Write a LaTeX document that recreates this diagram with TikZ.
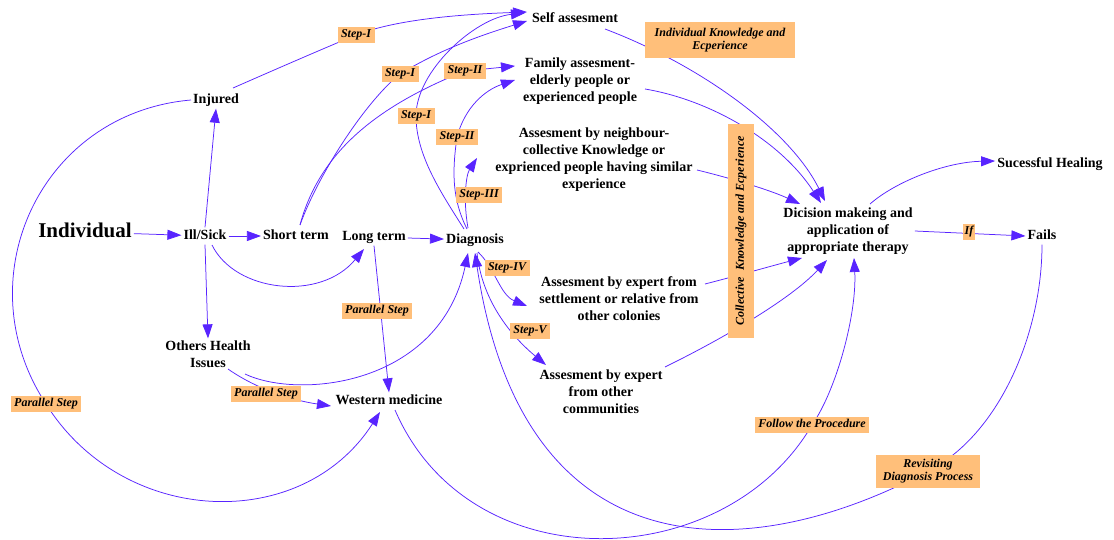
\documentclass[tikz,border=0pt]{standalone}
\usepackage{fontspec}
\setmainfont{Liberation Serif}
\usetikzlibrary{arrows.meta,calc}
\pgfdeclarelayer{fg}
\pgfsetlayers{main,fg}
\definecolor{flow}{RGB}{88,36,255}
\definecolor{tagfill}{RGB}{255,191,122}

\begin{document}
\begin{tikzpicture}[x=1pt,y=-1pt,
  term/.style={font=\fontsize{14}{17}\selectfont\bfseries, inner sep=2pt, text height=10pt, text depth=3pt},
  bigterm/.style={font=\fontsize{21}{24}\selectfont\bfseries, inner sep=2pt, text height=14.5pt, text depth=4pt},
  block/.style={font=\fontsize{14}{17}\selectfont\bfseries, align=center, inner sep=2pt},
  tag/.style={fill=tagfill, font=\fontsize{12}{13.5}\selectfont\bfseries\itshape, inner xsep=3.5pt, inner ysep=2.5pt},
  tagline/.style={tag, text height=8.3pt, text depth=2.5pt},
  plain/.style={draw=flow, line width=0.75pt},
  link/.style={plain, -{Triangle[length=14pt,width=10pt]}}]

\useasboundingbox[fill=white] (0,0) rectangle (1114,540);

% ---- states and assessments
\node[bigterm] (ind)   at (85,232)   {Individual};
\node[term]    (ill)   at (205,236)  {Ill/Sick};
\node[term]    (short) at (296,236)  {Short term};
\node[term]    (long)  at (374,237)  {Long term};
\node[term]    (diag)  at (475,240)  {Diagnosis};
\node[term]    (inj)   at (216,100)  {Injured};
\node[block]   (oth)   at (208,354)  {Others Health\\Issues};
\node[term]    (west)  at (389,401)  {Western medicine};
\node[term]    (self)  at (575,19)   {Self assesment};
\node[block]   (fam)   at (580,81)   {Family assesment-\\elderly people or\\experienced people};
\node[block]   (nei)   at (594,160)  {Assesment by neighbour-\\collective Knowledge or\\exprienced people having similar\\experience};
\node[block]   (exs)   at (619,299)  {Assesment by expert from\\settlement or relative from\\other colonies};
\node[block]   (exc)   at (601,392)  {Assesment by expert\\from other\\communities};
\node[block]   (dec)   at (848,231)  {Dicision makeing and\\application of\\appropriate therapy};
\node[term]    (succ)  at (1050,164) {Sucessful Healing};
\node[term]    (fails) at (1042,236) {Fails};

% ---- edge tags, kept above the connectors
\begin{pgfonlayer}{fg}
\node[tagline] (t1) at (356,35)  {Step-I};
\node[tagline] (t2) at (400,74)  {Step-I};
\node[tagline] (t3) at (465,71)  {Step-II};
\node[tagline] (t4) at (416,116) {Step-I};
\node[tagline] (t5) at (457,137) {Step-II};
\node[tagline] (t6) at (479,195) {Step-III};
\node[tagline] (t7) at (507,268) {Step-IV};
\node[tagline] (t8) at (530,331) {Step-V};
\node[tagline] (p1) at (377,311) {Parallel Step};
\node[tagline] (p2) at (266,394) {Parallel Step};
\node[tagline] (p3) at (46,404)  {Parallel Step};
\node[tag, align=center, minimum width=150pt, minimum height=36pt] (ik) at (720,40) {Individual Knowledge and\\Ecperience};
\node[tagline, rotate=90, minimum width=214pt, minimum height=26pt] (ck) at (741,231) {Collective\ \ Knowledge and Ecperience};
\node[tagline, inner xsep=2pt] (iff) at (969,232) {If};
\node[tagline] (fp) at (812,425) {Follow the Procedure};
\node[tag, align=center, minimum width=104pt, minimum height=33pt] (rv) at (928,471) {Revisiting\\Diagnosis Process};
\end{pgfonlayer}

% ---- main chain
\draw[link] (ind) -- (ill);
\draw[link] (ill) -- (short);
\draw[link] (ill.north) -- (inj.south);
\draw[link] (ill.south) -- (oth.north);
\draw[link] ($(ill)+(7,9)$) .. controls (235,292) and (320,302) .. ($(long)+(-10,12)$);
\draw[link] (long) -- (diag);

% ---- towards the assessments
\draw[link] ($(inj)+(17,-12)$) .. controls (274,70) and (320,50) .. (t1.center)
  .. controls (400,18) and (470,14) .. ($(self)+(-48,-7)$);
\draw[link] ($(short)+(4,-11)$) .. controls (318,175) and (365,102) .. (t2.center)
  .. controls (441,49) and (482,35) .. ($(self)+(-48,2)$);
\draw[link] ($(short)+(4,-11)$) .. controls (320,150) and (380,105) .. (t3.center)
  -- ($(fam)+(-65,-15)$);
\draw[link] ($(diag)+(-11,-11)$) .. controls (442,194) and (416,156) .. (t4.center)
  .. controls (416,71) and (475,18) .. ($(self)+(-50,-6)$);
\draw[link] ($(diag)+(-8,-11)$) .. controls (452,199) and (452,172) .. (t5.center)
  .. controls (465,107) and (485,90) .. ($(fam)+(-65,-1)$);
\draw[link] ($(diag)+(-7,-12)$) .. controls (463,200) and (466,175) .. ($(nei)+(-117,-2)$);
\draw[link] ($(diag)+(3,12)$) .. controls (495,268) and (500,295) .. ($(exs)+(-92,7)$);
\draw[link] ($(diag)+(2,13)$) .. controls (482,300) and (510,335) .. ($(exc)+(-55,-27)$);

% ---- parallel steps
\draw[link] (long.south) -- (west.north);
\draw[link] ($(oth)+(20,15)$) .. controls (255,388) and (290,400) .. ($(west)+(-58,5)$);
\draw[link] ($(oth)+(37,20)$) .. controls (300,400) and (440,385) .. ($(diag)+(-7,13)$);
\draw[link] (inj.west) .. controls (40,113) and (-36,279) .. (p3.center)
  .. controls (123,527) and (302,534) .. ($(west)+(-9,11)$);

% ---- into the decision
\draw[link] ($(self)+(30,10)$) .. controls (700,65) and (790,130) .. ($(dec)+(-23,-30)$);
\draw[link] ($(fam)+(65,8)$) .. controls (710,100) and (780,140) .. ($(dec)+(-27,-28)$);
\draw[link] ($(nei)+(103,10)$) .. controls (730,178) and (770,190) .. ($(dec)+(-48,-27)$);
\draw[link] ($(exs)+(86,-15)$) .. controls (740,275) and (775,265) .. ($(dec)+(-46,27)$);
\draw[link] ($(exc)+(64,-25)$) .. controls (720,340) and (790,300) .. ($(dec)+(-21,29)$);
\draw[link] ($(west)+(6,9)$) .. controls (470,584) and (725,574) .. (fp.center)
  .. controls (837,389) and (857,313) .. ($(dec)+(6,27)$);

% ---- outcomes
\draw[link] ($(dec)+(22,-27)$) .. controls (895,182) and (945,162) .. ($(succ.west)+(0,-3)$);
\draw[link] (dec.east) -- (fails.west);
\draw[link] (fails.south) .. controls (1042,335) and (998,436) .. (rv.center)
  .. controls (748,567) and (523,574) .. ($(diag)+(0,13)$);
\end{tikzpicture}
\end{document}
